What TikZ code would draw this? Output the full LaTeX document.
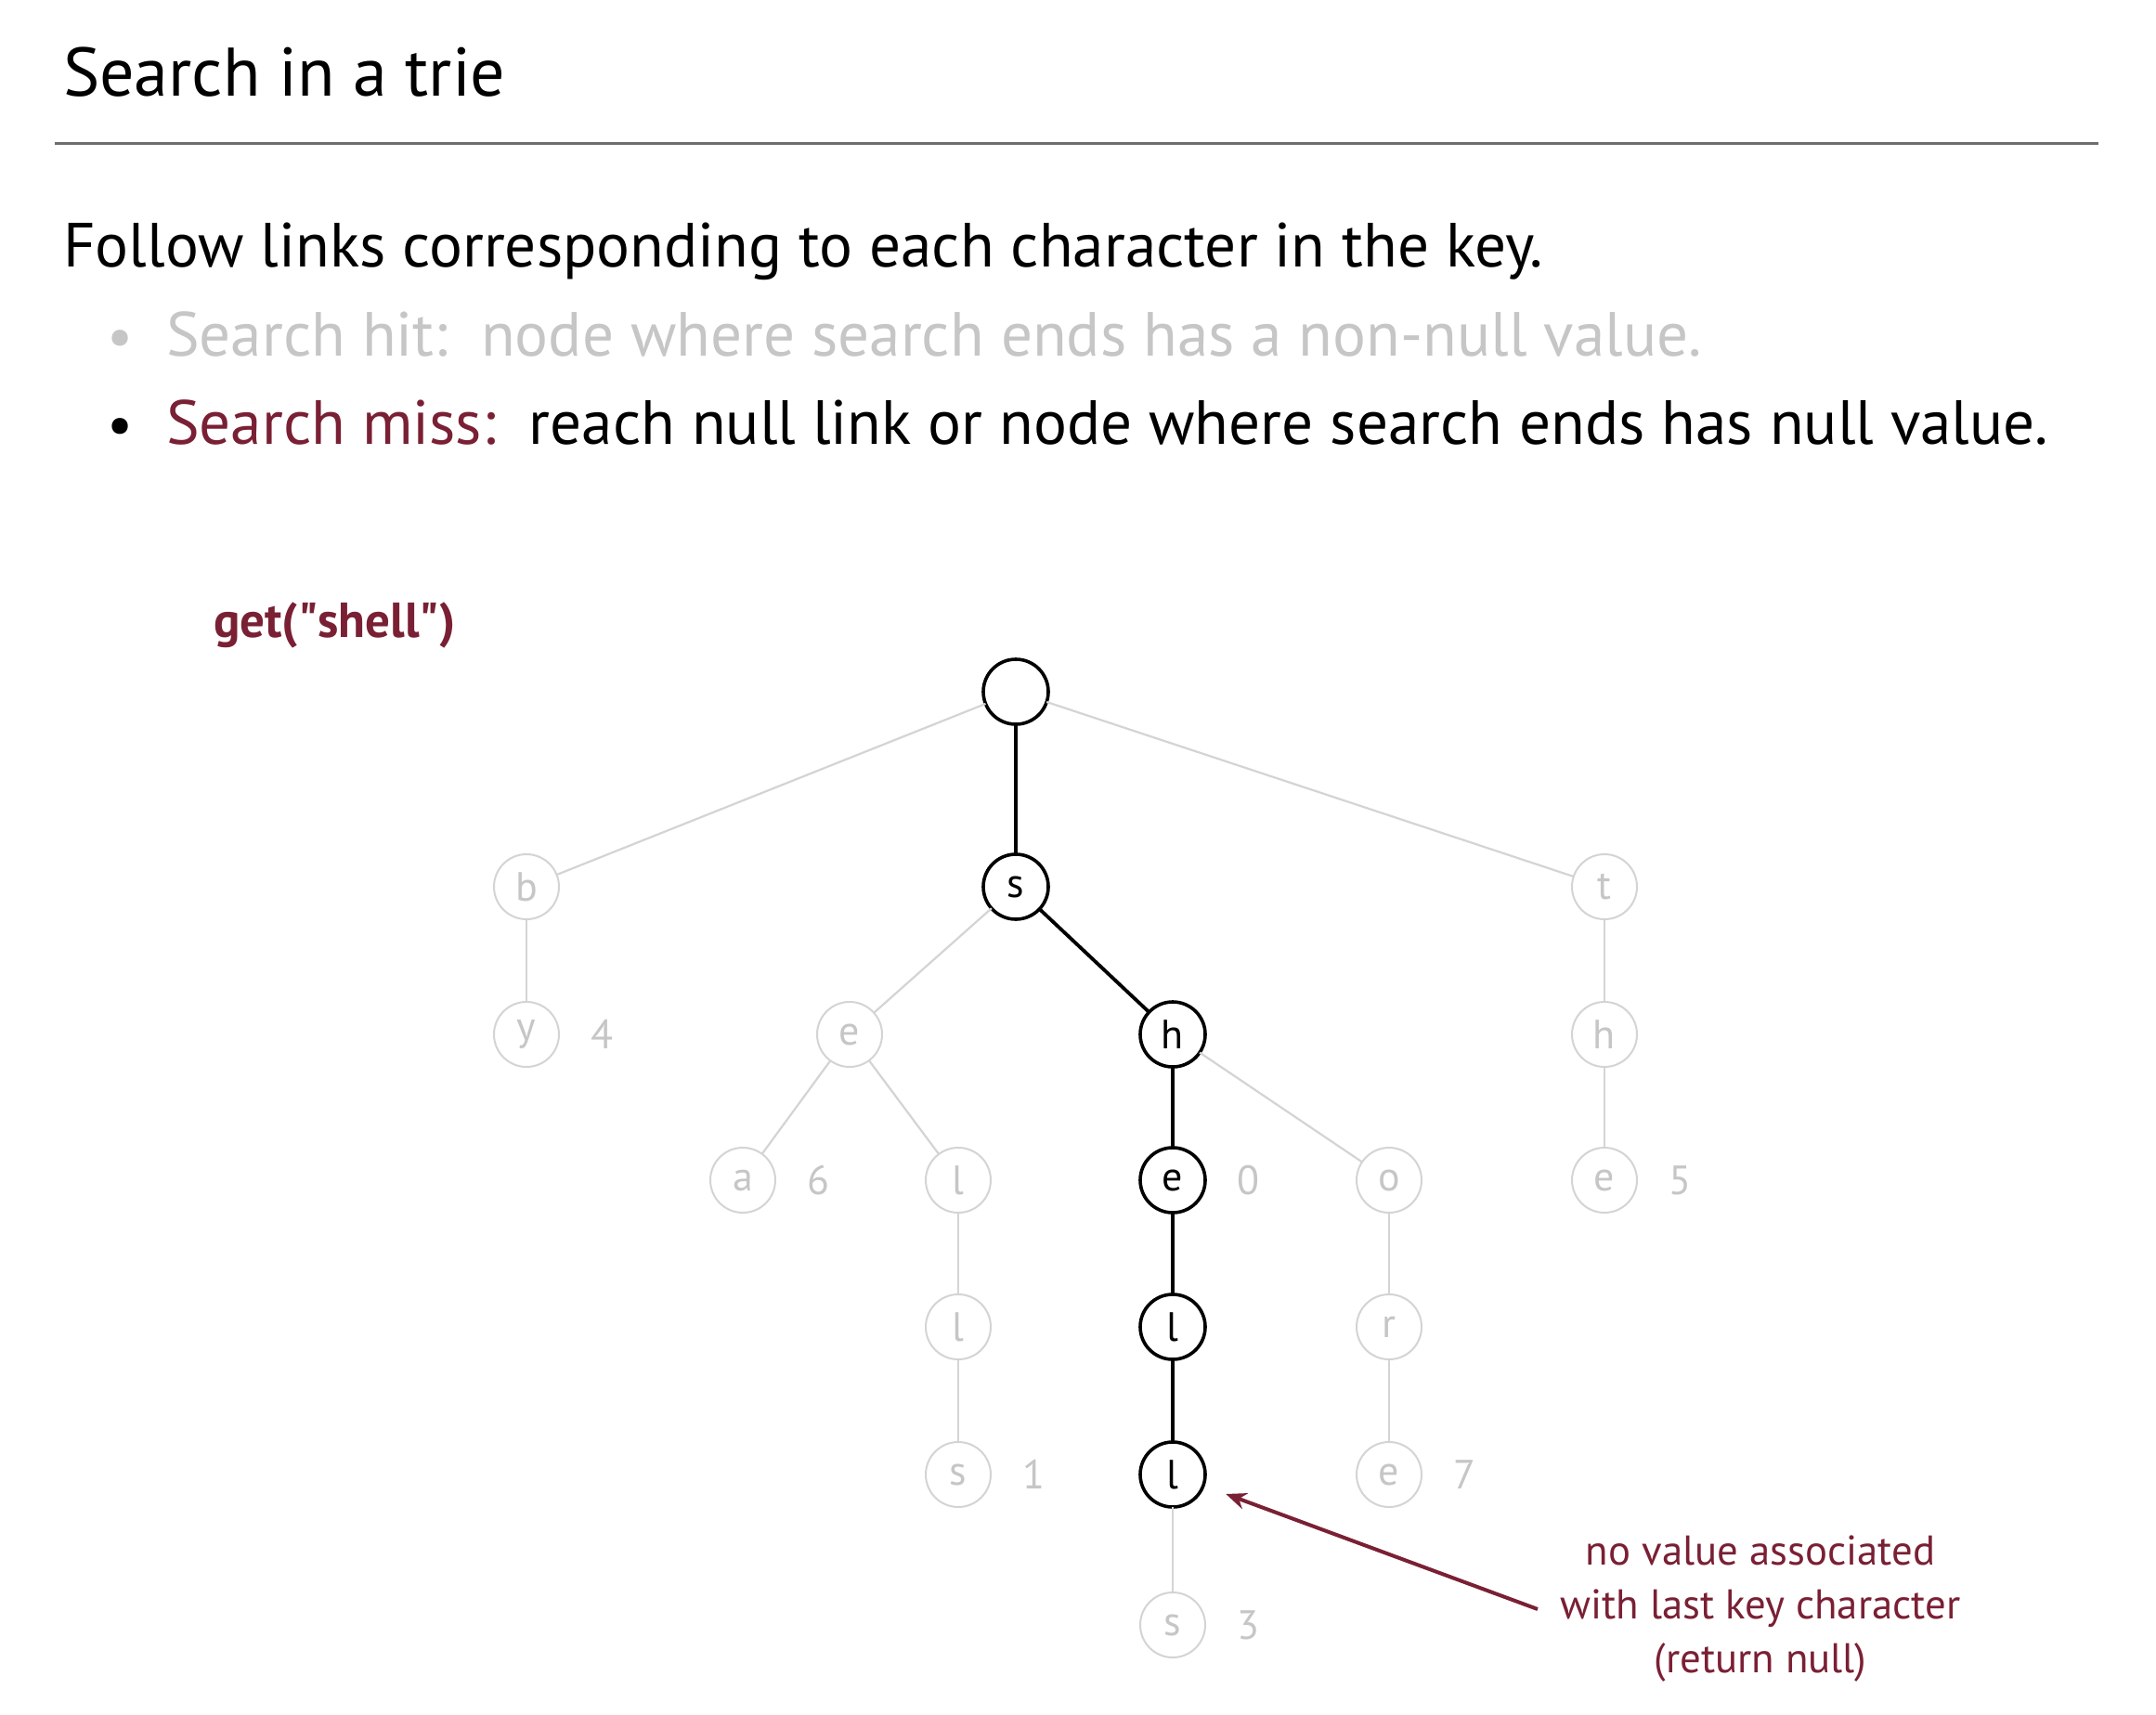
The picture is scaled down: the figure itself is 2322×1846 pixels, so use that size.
\documentclass[tikz,border=0pt]{standalone}
\usepackage{fontspec}
\setmainfont{PT Sans}
\usetikzlibrary{arrows.meta}
\definecolor{miss}{RGB}{122,32,52}
\definecolor{faint}{RGB}{198,198,198}
\definecolor{faintline}{RGB}{212,212,212}
\definecolor{rulegray}{RGB}{110,110,110}
\begin{document}
\begin{tikzpicture}[x=0.5pt,y=-0.5pt,
  every node/.style={inner sep=0pt,outer sep=0pt},
  pathnode/.style={circle,draw=black,line width=1.8pt,minimum size=35pt,
    font=\fontsize{22pt}{22pt}\selectfont},
  fnode/.style={circle,draw=faintline,line width=1pt,minimum size=35pt,text=faint,
    font=\fontsize{22pt}{22pt}\selectfont},
  val/.style={text=faint,font=\fontsize{22pt}{22pt}\selectfont,label distance=17pt},
  pedge/.style={draw=black,line width=1.9pt},
  fedge/.style={draw=faintline,line width=1.1pt},
  body/.style={anchor=base west,font=\fontsize{33.6pt}{33.6pt}\selectfont},
  note/.style={text=miss,font=\fontsize{22.4pt}{29pt}\selectfont,align=center}
]
\useasboundingbox[fill=white] (0,0) rectangle (2322,1846);

% heading, rule and text
\node[anchor=base west,font=\fontsize{37pt}{37pt}\selectfont] (title) at (68,104) {Search in a trie};
\draw[rulegray,line width=1.5pt] (59,155) -- (2260,155);
\node[body] (intro) at (68,287) {Follow links corresponding to each character in the key.};
\node[body,text=faint] (hit) at (179,383)
  {Search hit:\ \ node where search ends has a non-null value.};
\node[anchor=base,font=\fontsize{31pt}{31pt}\selectfont,text=faint] (b1) at (130,383) {\textbullet};
\node[body] (miss) at (179,478)
  {\textcolor{miss}{Search miss:}\ \ reach null link or node where search ends has null value.};
\node[anchor=base,font=\fontsize{31pt}{31pt}\selectfont] (b2) at (130,478) {\textbullet};

\node[anchor=base west,text=miss,font=\fontsize{26.5pt}{26.5pt}\selectfont\bfseries] (call) at (230,686)
  {get(\textquotedbl shell\textquotedbl)};

% trie nodes
\node[pathnode] (root) at (1094,745) {};
\node[fnode] (b) at (567,955) {b};
\node[pathnode] (s) at (1094,955) {s};
\node[fnode] (t) at (1728,955) {t};
\node[fnode,label={[val]0:4}] (y) at (567,1114) {y};
\node[fnode] (e1) at (915,1114) {e};
\node[pathnode] (h) at (1263,1114) {h};
\node[fnode] (th) at (1728,1114) {h};
\node[fnode,label={[val]0:6}] (a) at (800,1271) {a};
\node[fnode] (l1) at (1032,1271) {l};
\node[pathnode,label={[val]0:0}] (e2) at (1263,1271) {e};
\node[fnode] (o) at (1496,1271) {o};
\node[fnode,label={[val]0:5}] (te) at (1728,1271) {e};
\node[fnode] (l2) at (1032,1429) {l};
\node[pathnode] (l3) at (1263,1429) {l};
\node[fnode] (r) at (1496,1429) {r};
\node[fnode,label={[val]0:1}] (s2) at (1032,1588) {s};
\node[pathnode] (l4) at (1263,1588) {l};
\node[fnode,label={[val]0:7}] (e3) at (1496,1588) {e};
\node[fnode,label={[val]0:3}] (s3) at (1263,1750) {s};

% links
\foreach \u/\v in {root/b,root/t,b/y,s/e1,t/th,e1/a,e1/l1,h/o,th/te,l1/l2,o/r,l2/s2,r/e3,l4/s3}
  \draw[fedge] (\u) -- (\v);
\foreach \u/\v in {root/s,s/h,h/e2,e2/l3,l3/l4}
  \draw[pedge] (\u) -- (\v);

% annotation
\node[note] (txt) at (1896,1733) {no value associated\\with last key character\\(return null)};
\coordinate (tail) at (1656,1733);
\draw[miss,line width=2pt,-{Stealth[length=11pt,width=9pt]},shorten >=13pt] (tail) -- (l4.-20);
\end{tikzpicture}
\end{document}
